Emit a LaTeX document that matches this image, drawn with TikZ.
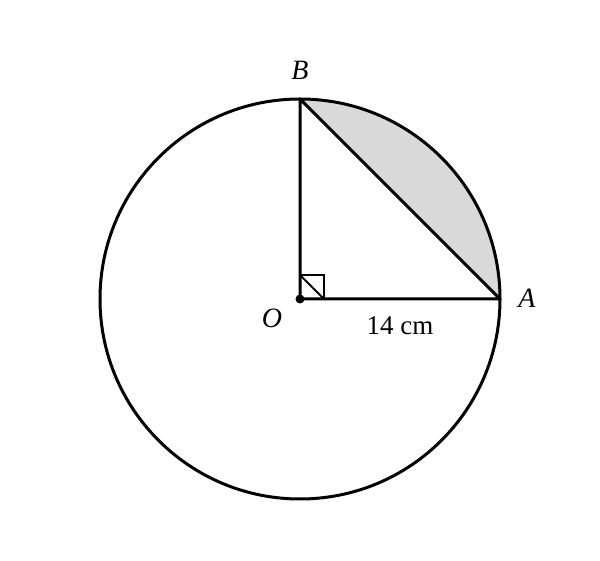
\documentclass[tikz,border=0pt]{standalone}
\usepackage{fontspec}
\setmainfont{Liberation Serif}
\begin{document}
\begin{tikzpicture}[x=1pt,y=1pt,
  edge/.style={line width=3pt,line join=round},
  lbl/.style={font=\fontsize{28}{32}\selectfont\itshape,inner sep=0pt}]
\useasboundingbox (0,0) rectangle (600,560);
\coordinate (O) at (300,261);
\coordinate (A) at (500,261);
\coordinate (B) at (300,461);
\fill[gray!30] (B) arc[start angle=90,end angle=0,radius=200] -- cycle;
\draw[edge] (O) circle[radius=200];
\draw[edge] (B) -- (O) -- (A) -- cycle;
\draw[line width=2pt] (300,285) -- (324,285) -- (324,261);
\draw[line width=2pt] (300,285) -- (324,261);
\fill (O) circle[radius=4.5];
\node[lbl] (lB) at (300,490) {B};
\node[lbl] (lA) at (527,262) {A};
\node[lbl] (lO) at (272,242) {O};
\node[font=\fontsize{27}{31}\selectfont,inner sep=0pt] (len) at (400,234) {14 cm};
\end{tikzpicture}
\end{document}
